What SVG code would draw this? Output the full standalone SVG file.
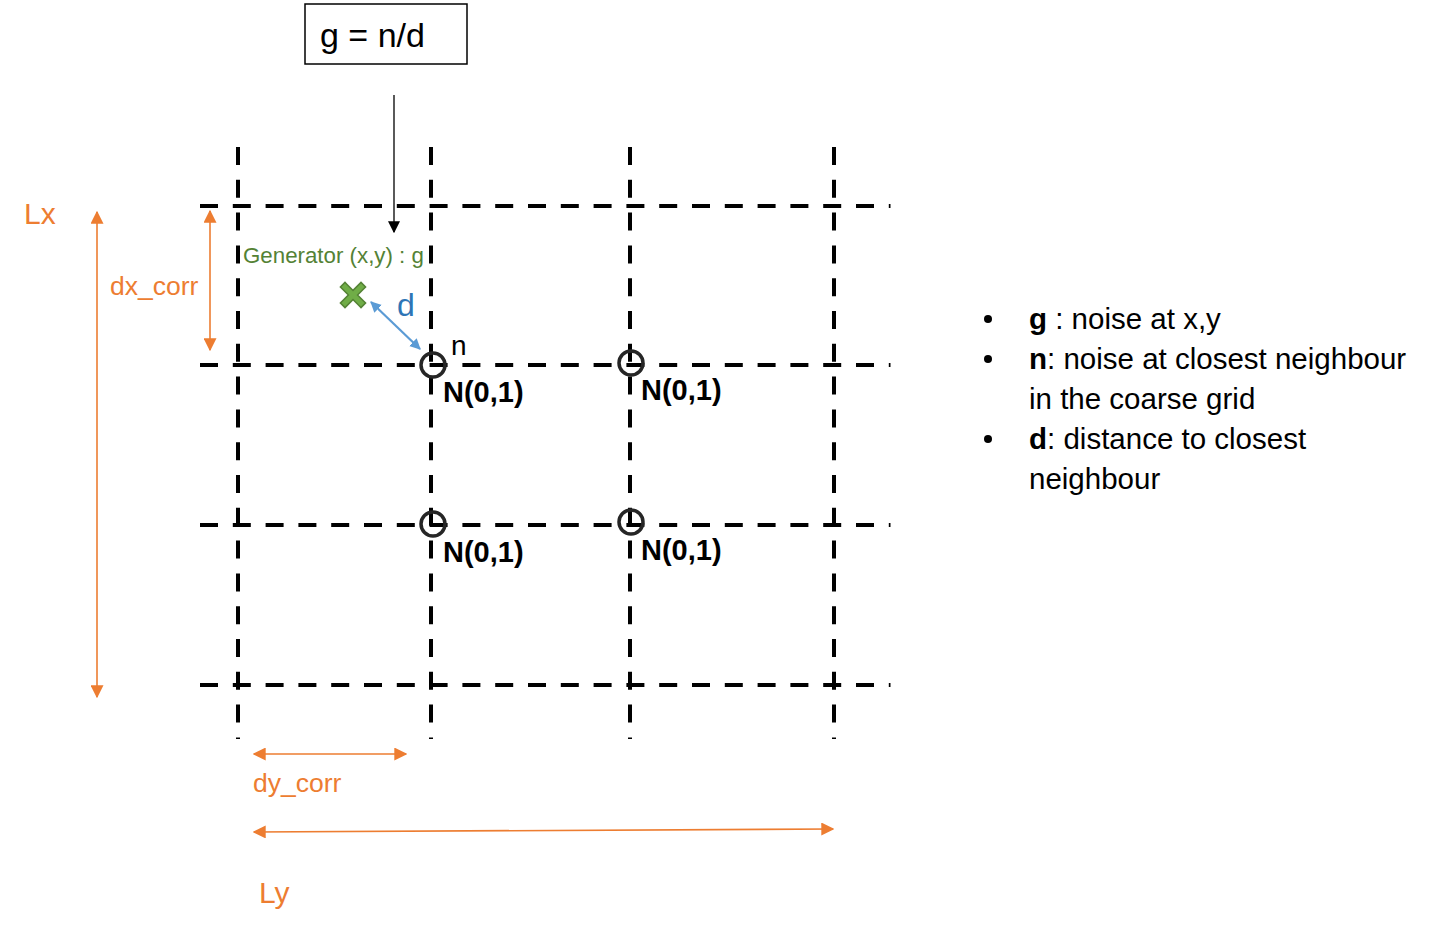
<svg xmlns="http://www.w3.org/2000/svg" width="1437" height="937" viewBox="0 0 1437 937">
<style>
.grid{stroke:#000;stroke-width:4;stroke-dasharray:18 14.8;fill:none}
.node{fill:none;stroke:#262626;stroke-width:3.5}
.nl{font-family:"Liberation Sans",Arial,sans-serif;font-weight:bold;font-size:29px;fill:#000}
.or{stroke:#ed7d31;stroke-width:1.6;fill:none}
.ot{font-family:"Liberation Sans",Arial,sans-serif;fill:#ed7d31}
.lg{font-family:"Liberation Sans",Arial,sans-serif;font-size:29.5px;fill:#000}
</style>
<defs>
<marker id="ao" viewBox="0 0 10 10" refX="9" refY="5" markerWidth="13" markerHeight="13" markerUnits="userSpaceOnUse" orient="auto-start-reverse"><path d="M0,0 L10,5 L0,10 z" fill="#ed7d31"/></marker>
<marker id="ab" viewBox="0 0 10 10" refX="9" refY="5" markerWidth="12" markerHeight="12" markerUnits="userSpaceOnUse" orient="auto-start-reverse"><path d="M0,0 L10,5 L0,10 z" fill="#000"/></marker>
<marker id="abl" viewBox="0 0 10 10" refX="9" refY="5" markerWidth="11" markerHeight="11" markerUnits="userSpaceOnUse" orient="auto-start-reverse"><path d="M0,0 L10,5 L0,10 z" fill="#5b9bd5"/></marker>
</defs>
<g id="grid">
<line class="grid" x1="238" y1="147" x2="238" y2="739"/>
<line class="grid" x1="431" y1="147" x2="431" y2="739"/>
<line class="grid" x1="630" y1="147" x2="630" y2="739"/>
<line class="grid" x1="834" y1="147" x2="834" y2="739"/>
<line class="grid" x1="200" y1="206" x2="890.5" y2="206"/>
<line class="grid" x1="200" y1="365" x2="890.5" y2="365"/>
<line class="grid" x1="200" y1="525" x2="890.5" y2="525"/>
<line class="grid" x1="200" y1="685" x2="890.5" y2="685"/>
</g>
<g id="formula">
<rect x="305" y="4" width="162" height="60" fill="#fff" stroke="#000" stroke-width="1.5"/>
<text x="320" y="47" font-family="Liberation Sans,Arial,sans-serif" font-size="34">g = n/d</text>
</g>
<g id="connectors">
<line x1="394" y1="95" x2="394" y2="232" stroke="#000" stroke-width="1.3" marker-end="url(#ab)"/>
<line x1="371" y1="302" x2="420" y2="349" stroke="#5b9bd5" stroke-width="2.2" marker-start="url(#abl)" marker-end="url(#abl)"/>
<line class="or" x1="97" y1="212" x2="97" y2="697" marker-start="url(#ao)" marker-end="url(#ao)"/>
<line class="or" x1="210" y1="211" x2="210" y2="350" marker-start="url(#ao)" marker-end="url(#ao)"/>
<line class="or" x1="254" y1="754" x2="406" y2="754" marker-start="url(#ao)" marker-end="url(#ao)"/>
<line class="or" x1="254" y1="832" x2="833" y2="829" marker-start="url(#ao)" marker-end="url(#ao)"/>
</g>
<g id="generator">
<text x="243" y="263" font-family="Liberation Sans,Arial,sans-serif" font-size="22.3" fill="#548235">Generator (x,y) : g</text>
<path d="M345,287 L361,303 M361,287 L345,303" stroke="#548235" stroke-width="8" stroke-linecap="square"/>
<path d="M345,287 L361,303 M361,287 L345,303" stroke="#70ad47" stroke-width="5" stroke-linecap="square"/>
<text x="397" y="316" font-family="Liberation Sans,Arial,sans-serif" font-size="32" fill="#2e75b6">d</text>
</g>
<g id="node-n1">
<circle class="node" cx="433" cy="365" r="12"/>
<text x="451" y="355" font-family="Liberation Sans,Arial,sans-serif" font-size="28">n</text>
<text class="nl" x="443" y="402">N(0,1)</text>
</g>
<g id="node-n2">
<circle class="node" cx="631" cy="363" r="12"/>
<text class="nl" x="641" y="400">N(0,1)</text>
</g>
<g id="node-n3">
<circle class="node" cx="433" cy="524" r="12"/>
<text class="nl" x="443" y="562">N(0,1)</text>
</g>
<g id="node-n4">
<circle class="node" cx="631" cy="522" r="12"/>
<text class="nl" x="641" y="560">N(0,1)</text>
</g>
<g id="dims">
<text class="ot" x="24" y="224" font-size="30">Lx</text>
<text class="ot" x="110" y="295" font-size="26.5">dx_corr</text>
<text class="ot" x="253" y="792" font-size="26.5">dy_corr</text>
<text class="ot" x="259" y="903" font-size="30">Ly</text>
</g>
<g id="legend">
<circle cx="988" cy="319" r="4" fill="#000"/>
<circle cx="988" cy="359" r="4" fill="#000"/>
<circle cx="988" cy="439" r="4" fill="#000"/>
<text class="lg" x="1029" y="329"><tspan font-weight="bold">g</tspan> : noise at x,y</text>
<text class="lg" x="1029" y="369"><tspan font-weight="bold">n</tspan>: noise at closest neighbour</text>
<text class="lg" x="1029" y="409">in the coarse grid</text>
<text class="lg" x="1029" y="449"><tspan font-weight="bold">d</tspan>: distance to closest</text>
<text class="lg" x="1029" y="489">neighbour</text>
</g>
</svg>
